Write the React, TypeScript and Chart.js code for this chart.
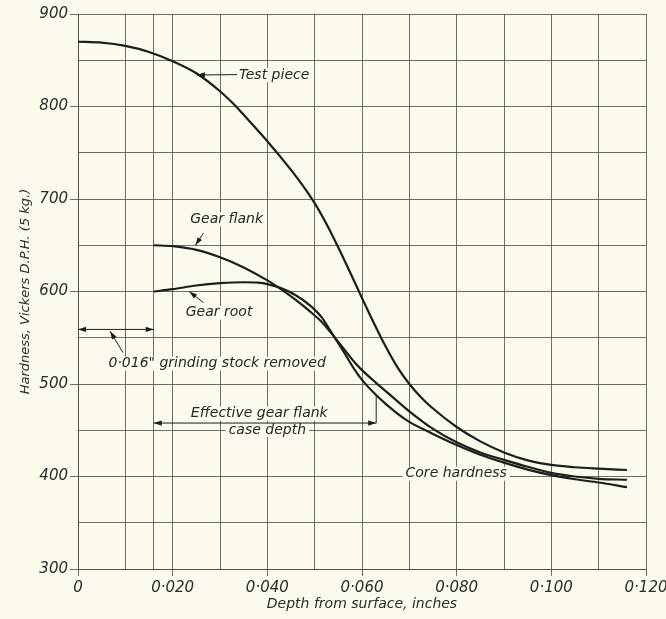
import React, { useEffect, useRef } from 'react';
import { Chart, registerables } from 'chart.js';

Chart.register(...registerables);

// ---- data (depth in inches, hardness in Vickers D.P.H.) ----
const testDepth = [0, 0.005, 0.01, 0.015, 0.02, 0.025, 0.03, 0.0332, 0.035, 0.04, 0.045, 0.0475, 0.05, 0.0525, 0.055, 0.0575, 0.06, 0.0625, 0.065, 0.0675, 0.07, 0.0725, 0.075, 0.08, 0.085, 0.09, 0.095, 0.1, 0.105, 0.11, 0.116];
const testHardness = [870, 869, 865.5, 859, 849, 836, 816.5, 801, 791, 762.5, 731.5, 714.5, 695.5, 673, 647.5, 620.5, 593, 566, 540.5, 518, 500, 485.5, 473.5, 453.5, 438, 426, 417.5, 412.5, 410, 408.5, 407];

const flankDepth = [0.016, 0.02, 0.025, 0.03, 0.035, 0.04, 0.043, 0.046, 0.049, 0.0515, 0.0535, 0.056, 0.0585, 0.06, 0.0628, 0.066, 0.07, 0.075, 0.08, 0.085, 0.09, 0.095, 0.1, 0.105, 0.11, 0.116];
const flankHardness = [650, 649, 645, 637, 626, 612, 602, 591, 578.5, 567, 555, 539, 523, 515, 502, 488, 470.5, 451.5, 437, 426, 418, 410.5, 404, 400, 397.5, 396.5];

const rootDepth = [0.016, 0.02, 0.025, 0.03, 0.035, 0.038, 0.04, 0.043, 0.046, 0.049, 0.0515, 0.0535, 0.056, 0.0585, 0.06, 0.0625, 0.065, 0.0675, 0.07, 0.075, 0.08, 0.085, 0.09, 0.095, 0.1, 0.105, 0.11, 0.116];
const rootHardness = [600, 602.5, 606.5, 609, 610, 609.5, 608, 603.5, 596, 585, 572, 556, 536, 515, 504.5, 490.5, 478.5, 468, 459, 446, 434, 423.5, 415, 407.5, 401.5, 397, 393.5, 388.5];

// grid / tick values
const xGridValues = [0, 0.01, 0.016, 0.02, 0.03, 0.04, 0.05, 0.06, 0.07, 0.08, 0.09, 0.1, 0.11, 0.12];
const xLabelled = [0, 0.02, 0.04, 0.06, 0.08, 0.1, 0.12];
const yLabelled = [300, 400, 500, 600, 700, 800, 900];

// annotation texts (data coordinates)
const noteTexts = [
  { text: 'Test piece', x: 0.034, y: 834, align: 'left' },
  { text: 'Gear flank', x: 0.0314, y: 678, align: 'center' },
  { text: 'Gear root', x: 0.0298, y: 577, align: 'center' },
  { text: '0·016" grinding stock removed', x: 0.0294, y: 522, align: 'center' },
  { text: 'Effective gear flank', x: 0.0383, y: 468, align: 'center' },
  { text: 'case depth', x: 0.04, y: 450, align: 'center' },
  { text: 'Core hardness', x: 0.0799, y: 403, align: 'center' },
];

// leader / dimension lines (data coordinates): heads at 'end', 'both', or 'none'
const noteLines = [
  { from: [0.0336, 834.5], to: [0.0251, 834], head: 'end' },
  { from: [0.0265, 663], to: [0.0248, 650], head: 'end' },
  { from: [0.0265, 588], to: [0.0235, 600], head: 'end' },
  { from: [0.0095, 534], to: [0.0068, 557], head: 'end' },
  { from: [0.0, 559], to: [0.016, 559], head: 'both' },
  { from: [0.016, 457.8], to: [0.063, 457.8], head: 'both' },
  { from: [0.063, 457.8], to: [0.063, 488], head: 'none' },
];

const BG = '#fbfaec';
const INK = '#1d1d1a';
const GRID = 'rgba(75,75,62,0.8)';
const FONT = 'DejaVu Sans';

const toPoints = (xs: number[], ys: number[]) => xs.map((x, i) => ({ x, y: ys[i] }));

function arrowHead(ctx: CanvasRenderingContext2D, fx: number, fy: number, tx: number, ty: number) {
  const ang = Math.atan2(ty - fy, tx - fx);
  const len = 8;
  const w = 2.6;
  ctx.beginPath();
  ctx.moveTo(tx, ty);
  ctx.lineTo(tx - len * Math.cos(ang) + w * Math.sin(ang), ty - len * Math.sin(ang) - w * Math.cos(ang));
  ctx.lineTo(tx - len * Math.cos(ang) - w * Math.sin(ang), ty - len * Math.sin(ang) + w * Math.cos(ang));
  ctx.closePath();
  ctx.fill();
}

const notesPlugin = {
  id: 'notes',
  beforeDraw(chart: any) {
    const { ctx, width, height } = chart;
    ctx.save();
    ctx.fillStyle = BG;
    ctx.fillRect(0, 0, width, height);
    ctx.restore();
  },
  beforeDatasetsDraw(chart: any) {
    const { ctx, scales } = chart;
    ctx.save();
    ctx.font = `italic 14px "${FONT}"`;
    ctx.fillStyle = BG;
    for (const t of noteTexts) {
      const px = scales.x.getPixelForValue(t.x);
      const py = scales.y.getPixelForValue(t.y);
      const w = ctx.measureText(t.text).width;
      const left = t.align === 'left' ? px : px - w / 2;
      ctx.fillRect(left - 3, py - 7, w + 6, 14);
    }
    ctx.restore();
  },
  afterDatasetsDraw(chart: any) {
    const { ctx, scales } = chart;
    ctx.save();
    ctx.strokeStyle = INK;
    ctx.fillStyle = INK;
    ctx.lineWidth = 1;
    for (const l of noteLines) {
      const fx = scales.x.getPixelForValue(l.from[0]);
      const fy = scales.y.getPixelForValue(l.from[1]);
      const tx = scales.x.getPixelForValue(l.to[0]);
      const ty = scales.y.getPixelForValue(l.to[1]);
      ctx.beginPath();
      ctx.moveTo(fx, fy);
      ctx.lineTo(tx, ty);
      ctx.stroke();
      if (l.head === 'end' || l.head === 'both') arrowHead(ctx, fx, fy, tx, ty);
      if (l.head === 'both') arrowHead(ctx, tx, ty, fx, fy);
    }
    ctx.font = `italic 14px "${FONT}"`;
    ctx.textBaseline = 'middle';
    ctx.fillStyle = '#262622';
    for (const t of noteTexts) {
      const px = scales.x.getPixelForValue(t.x);
      const py = scales.y.getPixelForValue(t.y);
      ctx.textAlign = t.align === 'left' ? 'left' : 'center';
      ctx.fillText(t.text, px, py);
    }
    ctx.restore();
  },
};

const isXLabelled = (v: number) => xLabelled.some((l) => Math.abs(l - v) < 1e-6);
const isYLabelled = (v: number) => yLabelled.includes(Math.round(v));

export default function App() {
  const ref = useRef<HTMLCanvasElement | null>(null);

  useEffect(() => {
    document.body.style.margin = '0';
    document.body.style.background = BG;
    const canvas = ref.current;
    if (!canvas) return;
    const lineStyle = {
      borderColor: INK,
      borderWidth: 2.2,
      pointRadius: 0,
      cubicInterpolationMode: 'monotone' as const,
      fill: false,
    };
    const chart = new Chart(canvas, {
      type: 'line',
      data: {
        datasets: [
          { label: 'Test piece', data: toPoints(testDepth, testHardness), ...lineStyle },
          { label: 'Gear flank', data: toPoints(flankDepth, flankHardness), ...lineStyle },
          { label: 'Gear root', data: toPoints(rootDepth, rootHardness), ...lineStyle },
        ],
      },
      options: {
        animation: false,
        responsive: false,
        layout: { padding: { left: 0, right: 20, top: 14, bottom: 0 } },
        plugins: { legend: { display: false }, tooltip: { enabled: false } },
        scales: {
          x: {
            type: 'linear',
            min: 0,
            max: 0.12,
            afterBuildTicks: (s: any) => {
              s.ticks = xGridValues.map((v) => ({ value: v }));
            },
            afterFit: (s: any) => {
              s.height = 50;
              s.paddingLeft = 0;
              s.paddingRight = 0;
            },
            ticks: {
              autoSkip: false,
              maxRotation: 0,
              minRotation: 0,
              padding: 3,
              color: '#2b2b27',
              font: { family: FONT, style: 'italic', size: 15 },
              callback: (value: any) => {
                const m = Math.round(Number(value) * 1000);
                if (m % 20 !== 0) return '';
                if (m === 0) return '0';
                return '0·' + String(m).padStart(3, '0');
              },
            },
            grid: {
              color: GRID,
              lineWidth: 1,
              tickLength: 7,
              tickColor: (c: any) => (c.tick && isXLabelled(c.tick.value) ? GRID : 'rgba(0,0,0,0)'),
            },
            border: { display: true, color: GRID, width: 1 },
            title: {
              display: true,
              text: 'Depth from surface, inches',
              color: '#2b2b27',
              font: { family: FONT, style: 'italic', size: 14 },
              padding: { top: 6, bottom: 6 },
            },
          },
          y: {
            type: 'linear',
            min: 300,
            max: 900,
            afterFit: (s: any) => {
              s.width = 78;
              s.paddingTop = 0;
              s.paddingBottom = 0;
            },
            ticks: {
              stepSize: 50,
              autoSkip: false,
              padding: 2,
              color: '#2b2b27',
              font: { family: FONT, style: 'italic', size: 15 },
              callback: (value: any) => (isYLabelled(Number(value)) ? String(value) : ''),
            },
            grid: {
              color: GRID,
              lineWidth: 1,
              tickLength: 8,
              tickColor: (c: any) => (c.tick && isYLabelled(c.tick.value) ? GRID : 'rgba(0,0,0,0)'),
            },
            border: { display: true, color: GRID, width: 1 },
            title: {
              display: true,
              text: 'Hardness, Vickers D.P.H. (5 kg.)',
              color: '#2b2b27',
              font: { family: FONT, style: 'italic', size: 13 },
              padding: { top: 18, bottom: 18 },
            },
          },
        },
      },
      plugins: [notesPlugin],
    });
    return () => chart.destroy();
  }, []);

  return (
    <div style={{ position: 'fixed', left: 0, top: 0, width: 666, height: 619, background: BG }}>
      <canvas ref={ref} width={666} height={619} style={{ display: 'block' }} />
    </div>
  );
}
